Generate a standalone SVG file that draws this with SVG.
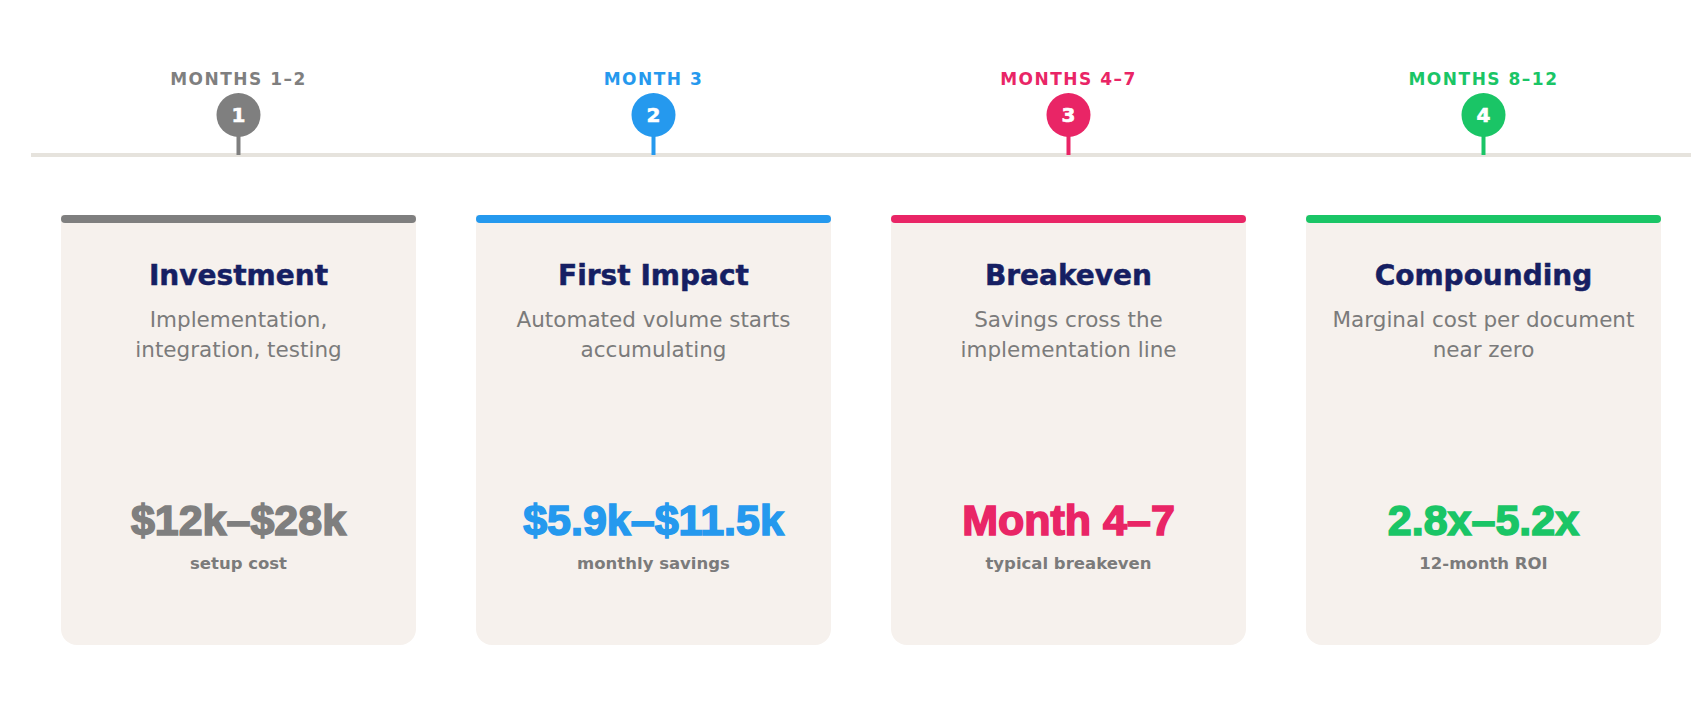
<svg xmlns="http://www.w3.org/2000/svg" width="1700" height="707" viewBox="0 0 1700 707">
<defs>
<style>
.lbl{font-family:"DejaVu Sans",sans-serif;font-weight:700;font-size:17px;letter-spacing:1.5px;text-anchor:middle}
.num{font-family:"DejaVu Sans",sans-serif;font-weight:700;font-size:20px;fill:#fff;stroke:#fff;stroke-width:0.6;text-anchor:middle}
.card{fill:#f6f1ed}
.title{font-family:"DejaVu Sans",sans-serif;font-weight:700;font-size:28px;fill:#161f63;stroke:#161f63;stroke-width:0.5;text-anchor:middle}
.desc{font-family:"DejaVu Sans",sans-serif;font-size:21.5px;fill:#7b7b7b;text-anchor:middle}
.val{font-family:"Liberation Sans",Arial,sans-serif;font-weight:700;font-size:43px;stroke-width:1.6;text-anchor:middle}
.sub{font-family:"DejaVu Sans",sans-serif;font-weight:700;font-size:16.5px;fill:#7b7b7b;text-anchor:middle}
.c1{fill:#7f7f7f}.c2{fill:#2599ee}.c3{fill:#e92566}.c4{fill:#1ac566}
.s1{stroke:#7f7f7f}.s2{stroke:#2599ee}.s3{stroke:#e92566}.s4{stroke:#1ac566}
.stem{stroke-width:4}
</style>
</defs>
<rect width="1700" height="707" fill="#ffffff"/>
<g id="connectors">
<line x1="31" y1="155" x2="1691" y2="155" stroke="#e6e3dd" stroke-width="4"/>
<line class="stem s1" x1="238.5" y1="135" x2="238.5" y2="155"/>
<line class="stem s2" x1="653.5" y1="135" x2="653.5" y2="155"/>
<line class="stem s3" x1="1068.5" y1="135" x2="1068.5" y2="155"/>
<line class="stem s4" x1="1483.5" y1="135" x2="1483.5" y2="155"/>
</g>
<g id="marker1">
<text class="lbl c1" x="238.5" y="85">MONTHS 1–2</text>
<circle class="c1" cx="238.5" cy="115" r="22"/>
<text class="num" x="238.5" y="122">1</text>
</g>
<g id="marker2">
<text class="lbl c2" x="653.5" y="85">MONTH 3</text>
<circle class="c2" cx="653.5" cy="115" r="22"/>
<text class="num" x="653.5" y="122">2</text>
</g>
<g id="marker3">
<text class="lbl c3" x="1068.5" y="85">MONTHS 4–7</text>
<circle class="c3" cx="1068.5" cy="115" r="22"/>
<text class="num" x="1068.5" y="122">3</text>
</g>
<g id="marker4">
<text class="lbl c4" x="1483.5" y="85">MONTHS 8–12</text>
<circle class="c4" cx="1483.5" cy="115" r="22"/>
<text class="num" x="1483.5" y="122">4</text>
</g>
<g id="card1">
<path class="card" d="M61 215H416V629a16 16 0 0 1-16 16H77a16 16 0 0 1-16-16Z"/>
<rect class="c1" x="61" y="215" width="355" height="8" rx="4"/>
<text class="title" x="238.5" y="285">Investment</text>
<text class="desc" x="238.5" y="327">Implementation,</text>
<text class="desc" x="238.5" y="357">integration, testing</text>
<text class="val c1 s1" x="238.5" y="535">$12k–$28k</text>
<text class="sub" x="238.5" y="569">setup cost</text>
</g>
<g id="card2">
<path class="card" d="M476 215H831V629a16 16 0 0 1-16 16H492a16 16 0 0 1-16-16Z"/>
<rect class="c2" x="476" y="215" width="355" height="8" rx="4"/>
<text class="title" x="653.5" y="285">First Impact</text>
<text class="desc" x="653.5" y="327">Automated volume starts</text>
<text class="desc" x="653.5" y="357">accumulating</text>
<text class="val c2 s2" x="653.5" y="535">$5.9k–$11.5k</text>
<text class="sub" x="653.5" y="569">monthly savings</text>
</g>
<g id="card3">
<path class="card" d="M891 215H1246V629a16 16 0 0 1-16 16H907a16 16 0 0 1-16-16Z"/>
<rect class="c3" x="891" y="215" width="355" height="8" rx="4"/>
<text class="title" x="1068.5" y="285">Breakeven</text>
<text class="desc" x="1068.5" y="327">Savings cross the</text>
<text class="desc" x="1068.5" y="357">implementation line</text>
<text class="val c3 s3" x="1068.5" y="535">Month 4–7</text>
<text class="sub" x="1068.5" y="569">typical breakeven</text>
</g>
<g id="card4">
<path class="card" d="M1306 215H1661V629a16 16 0 0 1-16 16H1322a16 16 0 0 1-16-16Z"/>
<rect class="c4" x="1306" y="215" width="355" height="8" rx="4"/>
<text class="title" x="1483.5" y="285">Compounding</text>
<text class="desc" x="1483.5" y="327">Marginal cost per document</text>
<text class="desc" x="1483.5" y="357">near zero</text>
<text class="val c4 s4" x="1483.5" y="535">2.8x–5.2x</text>
<text class="sub" x="1483.5" y="569">12-month ROI</text>
</g>
</svg>
